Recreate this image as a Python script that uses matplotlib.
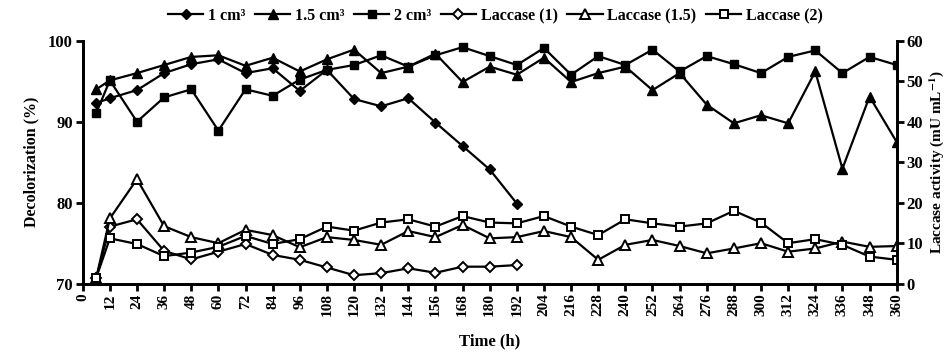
import matplotlib
matplotlib.use('Agg')
import matplotlib.pyplot as plt

plt.rcParams['font.family'] = ['Liberation Serif', 'DejaVu Serif']
plt.rcParams['mathtext.fontset'] = 'stix'
plt.rcParams['font.weight'] = 'bold'

# sampling times (h)
time_1 = [6, 12, 24, 36, 48, 60, 72, 84, 96, 108, 120, 132, 144, 156, 168, 180, 192]
time_all = [6] + list(range(12, 361, 12))

# decolorization (%)
decol_1 = [92.3, 92.9, 93.9, 96.0, 97.1, 97.7, 96.0, 96.6, 93.8, 96.4, 92.8,
           91.9, 92.9, 89.9, 87.0, 84.1, 79.9]
decol_15 = [94.0, 95.1, 96.0, 97.0, 98.0, 98.2, 96.9, 97.9, 96.2, 97.7, 98.9,
            96.0, 96.8, 98.4, 94.9, 96.8, 95.8, 97.9, 94.9, 96.0, 96.8, 93.9,
            96.0, 92.1, 89.8, 90.8, 89.8, 96.2, 84.2, 93.1, 87.5]
decol_2 = [91.1, 95.1, 90.0, 93.0, 94.0, 88.9, 94.0, 93.2, 95.2, 96.4, 97.0,
           98.2, 96.8, 98.2, 99.2, 98.1, 97.0, 99.1, 95.8, 98.1, 97.0, 98.9,
           96.2, 98.1, 97.1, 96.0, 98.0, 98.8, 96.0, 98.0, 97.0]

# laccase activity (mU/mL)
lac_1 = [1.5, 14.1, 15.9, 8.1, 6.0, 7.9, 9.8, 7.1, 5.9, 4.0, 2.1,
         2.6, 3.8, 2.7, 4.2, 4.2, 4.6]
lac_15 = [1.5, 16.1, 25.8, 14.2, 11.5, 10.0, 13.3, 12.0, 9.0, 11.5, 10.8,
          9.6, 13.0, 11.5, 14.5, 11.2, 11.5, 13.0, 11.5, 5.9, 9.6, 10.8,
          9.3, 7.5, 8.7, 10.0, 7.9, 8.7, 10.4, 9.1, 9.3]
lac_2 = [1.5, 11.2, 9.8, 6.8, 7.7, 9.1, 11.8, 9.8, 11.0, 14.1, 13.1,
         15.1, 15.9, 14.1, 16.7, 15.1, 14.9, 16.7, 14.1, 12.0, 15.9, 14.9,
         14.1, 14.9, 18.0, 15.1, 10.0, 11.0, 9.6, 6.7, 5.9]

xticks = list(range(0, 361, 12))

fig = plt.figure(figsize=(9.53, 3.54), dpi=100)
ax = fig.add_axes([0.0868, 0.1986, 0.8541, 0.6864])
ax2 = ax.twinx()

lw = 1.6
ms = 5.5
h1, = ax.plot(time_1, decol_1, color='black', lw=lw, marker='D', ms=ms - 0.5, label='1 cm³')
h2, = ax.plot(time_all, decol_15, color='black', lw=lw, marker='^', ms=ms + 1, label='1.5 cm³')
h3, = ax.plot(time_all, decol_2, color='black', lw=lw, marker='s', ms=ms, label='2 cm³')
h4, = ax2.plot(time_1, lac_1, color='black', lw=lw, marker='D', ms=ms - 0.5,
               mfc='white', mew=1.4, label='Laccase (1)')
h5, = ax2.plot(time_all, lac_15, color='black', lw=lw, marker='^', ms=ms + 1,
               mfc='white', mew=1.4, label='Laccase (1.5)')
h6, = ax2.plot(time_all, lac_2, color='black', lw=lw, marker='s', ms=ms,
               mfc='white', mew=1.4, label='Laccase (2)')

ax.set_xlim(0, 360)
ax.set_ylim(70, 100)
ax2.set_ylim(0, 60)
ax.set_xticks(xticks)
ax.set_xticklabels([str(t) for t in xticks], rotation=90, fontsize=11, fontweight='bold')
ax.set_yticks([70, 80, 90, 100])
ax.set_yticklabels(['70', '80', '90', '100'], fontsize=12, fontweight='bold')
ax2.set_yticks([0, 10, 20, 30, 40, 50, 60])
ax2.set_yticklabels([str(v) for v in range(0, 61, 10)], fontsize=12, fontweight='bold')

for a in (ax, ax2):
    a.spines['top'].set_visible(False)
    for s in ('left', 'right', 'bottom'):
        a.spines[s].set_linewidth(2)
    a.tick_params(width=2, length=5, direction='out', pad=2)

ax.set_xlabel('Time (h)', fontsize=12, fontweight='bold', labelpad=12)
ax.set_ylabel('Decolorization (%)', fontsize=11.5, fontweight='bold', labelpad=6)
ax2.set_ylabel('Laccase activity (mU mL$^{-1}$)', fontsize=11, fontweight='bold', labelpad=3)

fig.legend(handles=[h1, h2, h3, h4, h5, h6], loc='center', bbox_to_anchor=(0.52, 0.955),
           ncol=6, frameon=False, fontsize=11.5, handlelength=2.2, handletextpad=0.3,
           columnspacing=0.6, borderaxespad=0)

fig.savefig('out.png', dpi=100)
